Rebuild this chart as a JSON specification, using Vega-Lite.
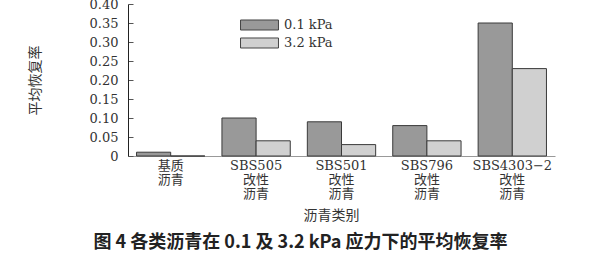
{
  "$schema": "https://vega.github.io/schema/vega-lite/v6.json",
  "width": 427,
  "height": 152,
  "autosize": "none",
  "padding": {"left": 128, "top": 4, "right": 45, "bottom": 99},
  "background": "white",
  "title": {
    "text": "图 4   各类沥青在 0.1 及 3.2 kPa 应力下的平均恢复率",
    "orient": "bottom",
    "anchor": "middle",
    "dx": -41,
    "offset": 12,
    "font": "Noto Sans CJK SC",
    "fontSize": 18,
    "fontWeight": "bold",
    "color": "#222"
  },
  "data": {
    "values": [
      {"cat": "基质|沥青", "p": "0.1 kPa", "v": 0.01},
      {"cat": "基质|沥青", "p": "3.2 kPa", "v": 0.0},
      {"cat": "SBS505|改性|沥青", "p": "0.1 kPa", "v": 0.10},
      {"cat": "SBS505|改性|沥青", "p": "3.2 kPa", "v": 0.04},
      {"cat": "SBS501|改性|沥青", "p": "0.1 kPa", "v": 0.09},
      {"cat": "SBS501|改性|沥青", "p": "3.2 kPa", "v": 0.03},
      {"cat": "SBS796|改性|沥青", "p": "0.1 kPa", "v": 0.08},
      {"cat": "SBS796|改性|沥青", "p": "3.2 kPa", "v": 0.04},
      {"cat": "SBS4303−2|改性|沥青", "p": "0.1 kPa", "v": 0.35},
      {"cat": "SBS4303−2|改性|沥青", "p": "3.2 kPa", "v": 0.23}
    ]
  },
  "mark": {"type": "bar", "stroke": "#3a3a3a", "strokeWidth": 1},
  "encoding": {
    "x": {
      "field": "cat",
      "type": "nominal",
      "sort": null,
      "scale": {"paddingInner": 0.2, "paddingOuter": 0.1},
      "axis": {
        "title": "沥青类别",
        "titleFont": "Noto Sans CJK SC",
        "titleFontSize": 14,
        "titleFontWeight": "normal",
        "titleColor": "#333",
        "titlePadding": 8,
        "titleX": 203,
        "labelAngle": 0,
        "labelExpr": "split(datum.label, '|')",
        "labelFont": "DejaVu Serif, Noto Sans CJK SC",
        "labelFontSize": 13,
        "labelLineHeight": 14,
        "labelColor": "#333",
        "labelPadding": 3,
        "ticks": false,
        "domainColor": "#999",
        "labelBaseline": "top"
      }
    },
    "xOffset": {"field": "p", "type": "nominal", "sort": ["0.1 kPa", "3.2 kPa"]},
    "y": {
      "field": "v",
      "type": "quantitative",
      "scale": {"domain": [0, 0.4], "nice": false},
      "axis": {
        "title": "平均恢复率",
        "titleFont": "Noto Sans CJK SC",
        "titleFontSize": 14,
        "titleFontWeight": "normal",
        "titleColor": "#333",
        "titleX": -86,
        "titleY": 76,
        "values": [0, 0.05, 0.1, 0.15, 0.2, 0.25, 0.3, 0.35, 0.4],
        "labelExpr": "datum.value == 0 ? '0' : format(datum.value, '.2f')",
        "labelFont": "DejaVu Serif",
        "labelFontSize": 13,
        "labelColor": "#333",
        "grid": false,
        "tickSize": -5,
        "labelPadding": 15,
        "tickColor": "#555",
        "domainColor": "#222"
      }
    },
    "color": {
      "field": "p",
      "type": "nominal",
      "sort": ["0.1 kPa", "3.2 kPa"],
      "scale": {"range": ["#999999", "#d0d0d0"]},
      "legend": {
        "title": null,
        "orient": "none",
        "legendX": 124.5,
        "legendY": 14,
        "symbolType": "M-2.92,-0.77H2.92V0.77H-2.92Z",
        "symbolSize": 169,
        "symbolStrokeColor": "#444",
        "symbolStrokeWidth": 1,
        "labelOffset": 17.5,
        "labelFont": "DejaVu Serif",
        "labelFontSize": 13,
        "labelColor": "#333",
        "rowPadding": 2,
        "padding": 0
      }
    }
  },
  "config": {"view": {"stroke": null}}
}
